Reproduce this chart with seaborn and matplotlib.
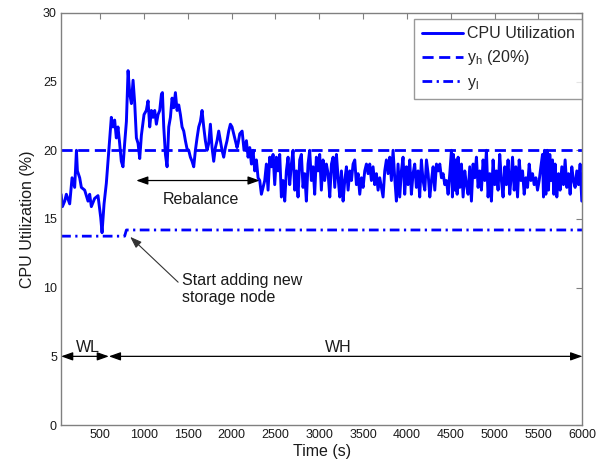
import matplotlib
matplotlib.use("Agg")
import matplotlib.pyplot as plt
import pandas as pd
import seaborn as sns

# CPU utilization trace (time in s, utilization in %)
cpu_time = [
    55, 70, 96, 115, 153, 180, 210, 230, 241, 267, 286, 324, 362, 381, 400, 438,
    476, 507, 522, 545, 571, 590, 609, 628, 647, 666, 685, 704, 723, 742, 761, 780,
    800, 819, 838, 857, 876, 895, 914, 933, 952, 971, 1001, 1027,
    1047, 1066, 1085, 1104, 1123, 1142, 1161, 1180, 1200, 1211, 1226, 1245, 1264,
    1283, 1302, 1321, 1340, 1359, 1378, 1397, 1416, 1435, 1454, 1473, 1492, 1511,
    1530, 1549, 1568, 1587, 1606, 1625, 1644, 1663, 1682, 1701, 1720, 1739, 1758,
    1777, 1796, 1815, 1834, 1853, 1872, 1891, 1910, 1929, 1948, 1967, 1986, 2005,
    2024, 2043, 2062,
    2074, 2093, 2120, 2142, 2169, 2188, 2207, 2226, 2245, 2264, 2283, 2302, 2321,
    2340, 2359, 2378, 2397, 2416, 2435, 2454, 2473, 2492, 2511, 2530, 2549, 2568,
    2587, 2606, 2625, 2644, 2663, 2682, 2701, 2720, 2739, 2758, 2777, 2796, 2815,
    2834, 2853, 2872, 2891, 2910, 2929, 2948, 2967, 2986, 3005, 3024, 3043, 3062,
    3081,
    3101, 3120, 3139, 3158, 3177, 3196, 3215, 3234, 3253, 3272, 3291, 3310, 3329,
    3348, 3367, 3386, 3405, 3424, 3443, 3462, 3481, 3500, 3519, 3538, 3557, 3576,
    3595, 3614, 3633, 3652, 3671, 3690, 3709, 3728, 3747, 3766, 3785, 3804, 3823,
    3842, 3861, 3880, 3899, 3918, 3937, 3956, 3975, 3994, 4013, 4032, 4051, 4070,
    4089, 4108, 4127, 4146, 4165, 4184,
    4204, 4223, 4242, 4261, 4280, 4299, 4318, 4337, 4356, 4375, 4394, 4413, 4432,
    4451, 4470, 4489, 4508, 4519, 4531, 4546, 4557, 4573, 4584, 4603, 4622, 4641,
    4660, 4679, 4698, 4717, 4736, 4755, 4774, 4793, 4812, 4831, 4850, 4869, 4888,
    4907, 4926, 4945, 4964, 4983, 5002, 5021, 5040, 5059, 5078, 5097, 5116, 5135,
    5154, 5173, 5192,
    5205, 5224, 5243, 5262, 5281, 5300, 5319, 5338, 5357, 5376, 5395, 5414, 5433,
    5452, 5471, 5490, 5509, 5528, 5547, 5558, 5569, 5585, 5600, 5615, 5630, 5645,
    5661, 5676, 5691, 5710, 5729, 5748, 5767, 5786, 5805, 5824, 5843, 5862, 5881,
    5900, 5919, 5938, 5957, 5976, 5995,
]
cpu_util = [
    16.8, 15.9, 16.3, 16.8, 16.1, 18.0, 17.3, 20.0, 18.5, 18.0, 17.3, 17.1, 16.3, 16.8, 15.9, 16.5,
    16.7, 15.1, 14.0, 16.1, 17.6, 19.2, 20.7, 22.4, 21.7, 22.2, 20.9, 21.7, 20.5, 19.2, 18.8, 20.5,
    22.1, 25.8, 24.1, 23.4, 25.1, 23.4, 20.9, 20.5, 19.4, 21.1, 22.6, 22.9,
    23.6, 21.7, 22.9, 22.4, 22.9, 21.9, 22.6, 22.9, 24.1, 24.2, 21.7, 19.7, 18.8,
    21.7, 22.4, 23.8, 23.1, 24.2, 22.9, 23.3, 22.6, 21.7, 21.4, 20.7, 20.1, 20.0,
    19.5, 19.2, 18.8, 20.0, 20.9, 21.7, 22.1, 22.9, 21.7, 20.7, 20.0, 20.5, 21.9,
    20.2, 19.2, 20.2, 20.7, 21.4, 20.7, 20.0, 19.5, 20.2, 20.7, 21.4, 21.9, 21.7,
    21.2, 20.7, 20.2,
    20.5, 21.2, 21.4, 20.0, 20.7, 19.5, 20.2, 19.0, 20.0, 18.5, 19.3, 18.0, 17.8,
    16.8, 17.3, 17.8, 19.0, 17.1, 19.5, 18.8, 19.7, 17.5, 19.5, 18.5, 19.7, 16.6,
    17.8, 16.3, 18.5, 19.5, 17.5, 19.0, 20.0, 17.1, 18.5, 16.6, 19.3, 19.7, 17.3,
    18.3, 16.3, 19.0, 20.0, 17.8, 18.8, 16.8, 19.5, 18.5, 19.7, 17.1, 19.3, 17.8,
    19.0,
    18.3, 16.6, 19.0, 19.5, 17.3, 19.7, 18.0, 16.6, 18.5, 16.3, 17.8, 18.8, 17.1,
    18.5, 17.8, 19.0, 19.3, 17.5, 18.3, 16.8, 18.0, 17.3, 18.5, 19.0, 18.3, 19.0,
    17.8, 18.8, 17.5, 18.3, 17.1, 18.0, 17.3, 16.6, 18.5, 19.3, 18.3, 19.5, 17.8,
    20.0, 18.0, 16.3, 19.0, 16.6, 18.5, 19.5, 16.8, 18.8, 17.5, 19.3, 16.8, 18.3,
    19.0, 17.3, 18.5, 16.6, 19.3, 17.8,
    17.1, 19.3, 18.3, 16.6, 17.8, 18.8, 17.1, 19.0, 18.5, 19.0, 18.0, 18.3, 17.5,
    17.8, 16.8, 18.3, 20.0, 16.6, 19.7, 17.1, 19.3, 16.8, 19.5, 17.3, 19.0, 16.6,
    18.5, 17.5, 16.8, 18.8, 16.3, 19.0, 18.0, 19.5, 17.3, 18.5, 17.1, 19.3, 17.8,
    20.0, 16.6, 18.3, 16.3, 19.3, 17.5, 18.5, 17.1, 19.7, 17.8, 16.6, 18.8, 17.5,
    19.3, 16.8, 18.3,
    19.5, 17.1, 18.8, 16.6, 19.3, 17.8, 18.5, 16.8, 18.0, 17.3, 19.0, 17.8, 18.3,
    17.5, 18.0, 17.1, 17.8, 18.8, 19.7, 16.6, 20.0, 16.8, 20.0, 17.1, 19.7, 17.8,
    19.3, 16.8, 19.0, 16.6, 18.3, 17.1, 18.8, 17.5, 19.3, 17.3, 18.3, 16.8, 18.8,
    17.8, 17.3, 18.5, 17.5, 19.0, 16.3,
]

# thresholds
yh_time = [55, 6000]
yh_val = [20.0, 20.0]
yl_time = [55, 780, 800, 6000]
yl_val = [13.75, 13.75, 14.2, 14.2]

x_ticks = list(range(500, 6001, 500))
y_ticks = list(range(0, 31, 5))

cpu_df = pd.DataFrame({"time": cpu_time, "util": cpu_util})
yh_df = pd.DataFrame({"time": yh_time, "util": yh_val})
yl_df = pd.DataFrame({"time": yl_time, "util": yl_val})

sns.set_style("white")
plt.rcParams["font.family"] = ["Liberation Sans", "DejaVu Sans"]
plt.rcParams["mathtext.fontset"] = "custom"
plt.rcParams["mathtext.rm"] = "Liberation Sans"
plt.rcParams["mathtext.it"] = "Liberation Sans"

fig = plt.figure(figsize=(5.99, 4.62), dpi=100)
ax = fig.add_axes([0.102, 0.080, 0.870, 0.892])

blue = "#0000ff"
sns.lineplot(data=cpu_df, x="time", y="util", ax=ax, color=blue, lw=2.1,
             estimator=None, sort=False, label="CPU Utilization")
sns.lineplot(data=yh_df, x="time", y="util", ax=ax, color=blue, lw=2,
             ls=(0, (4, 2)), estimator=None, label=r"y$_{\mathregular{h}}$ (20%)")
sns.lineplot(data=yl_df, x="time", y="util", ax=ax, color=blue, lw=2,
             ls=(0, (3.5, 1.6, 0.8, 1.6)), estimator=None,
             label=r"y$_{\mathregular{l}}$")

ax.set_xlim(55, 6000)
ax.set_ylim(0, 30)
ax.set_xticks(x_ticks)
ax.set_yticks(y_ticks)
ax.set_xlabel("Time (s)", fontsize=11.5, color="#1a1a1a", labelpad=2)
ax.set_ylabel("CPU Utilization (%)", fontsize=11.5, color="#1a1a1a", labelpad=6)

for sp in ax.spines.values():
    sp.set_color("#808080")
    sp.set_linewidth(1.0)
ax.tick_params(direction="in", length=4, width=0.8, color="#808080",
               top=True, right=True, labelsize=9, labelcolor="#1a1a1a", pad=3)

leg = ax.legend(loc="upper right", bbox_to_anchor=(1.0, 0.985), fontsize=11.5,
                frameon=True, fancybox=False, edgecolor="#808080",
                handlelength=2.6, handletextpad=0.25, borderpad=0.45,
                labelspacing=0.45, borderaxespad=0)
leg.get_frame().set_linewidth(1.0)

# annotations
two_head = dict(arrowstyle="<|-|>,head_length=0.7,head_width=0.25",
                color="black", lw=0.9, shrinkA=0, shrinkB=0)
ax.annotate("", xy=(912, 17.8), xytext=(2320, 17.8), arrowprops=two_head)
ax.text(1652, 16.4, "Rebalance", fontsize=11.5, ha="center", va="center",
        color="#1a1a1a")

ax.annotate("", xy=(843, 13.7), xytext=(1390, 10.4),
            arrowprops=dict(arrowstyle="-|>,head_length=0.7,head_width=0.25",
                            color="#333333", lw=0.8, shrinkA=0, shrinkB=0))
ax.text(1434, 9.9, "Start adding new\nstorage node", fontsize=11.5,
        ha="left", va="center", color="#1a1a1a", linespacing=1.1)

ax.annotate("", xy=(55, 5), xytext=(600, 5), arrowprops=two_head)
ax.annotate("", xy=(600, 5), xytext=(6000, 5), arrowprops=two_head)
ax.text(363, 5.3, "WL", fontsize=11.5, ha="center", va="baseline", color="#1a1a1a")
ax.text(3220, 5.3, "WH", fontsize=11.5, ha="center", va="baseline", color="#1a1a1a")

fig.savefig("out.png", dpi=100)
